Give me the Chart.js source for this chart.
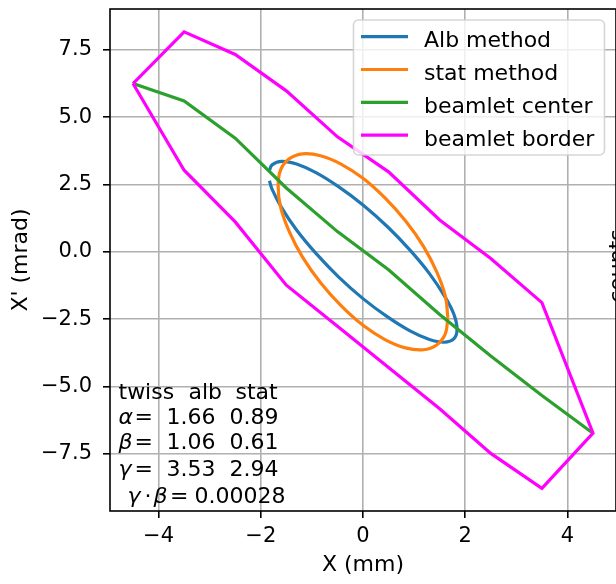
<!DOCTYPE html>
<html>
<head>
<meta charset="utf-8">
<script src="https://cdn.jsdelivr.net/npm/chart.js@4/dist/chart.umd.min.js"></script>
<style>
  html, body { margin: 0; padding: 0; overflow: hidden; background: #fff; width: 616px; height: 584px; }
  #wrap { position: absolute; left: 0; top: 0; width: 660px; height: 584px; }
</style>
</head>
<body>
<div id="wrap"><canvas id="phase" width="660" height="584"></canvas></div>
<script>
// Axis ticks
const xTicks = [-4, -2, 0, 2, 4];
const yTicks = [-7.5, -5, -2.5, 0, 2.5, 5, 7.5];

// Phase-space ellipse from the Alb method (open curve)
const albX = [-1.83, -1.78, -1.59, -1.30, -0.92, -0.48, 0, 0.48, 0.92, 1.30, 1.59, 1.78, 1.84,
              1.78, 1.59, 1.30, 0.92, 0.48, 0, -0.48, -0.92, -1.30, -1.59, -1.78, -1.83];
const albY = [3.02, 3.23, 3.36, 3.26, 2.94, 2.42, 1.74, 0.93, 0.06, -0.81, -1.63, -2.33, -2.88,
              -3.23, -3.36, -3.26, -2.94, -2.42, -1.74, -0.93, -0.06, 0.81, 1.63, 2.33, 2.64];

// Phase-space ellipse from the statistical method (closed)
const statX = [1.66, 1.61, 1.44, 1.18, 0.83, 0.43, 0, -0.43, -0.83, -1.18, -1.44, -1.61, -1.66,
               -1.61, -1.44, -1.18, -0.83, -0.43, 0, 0.43, 0.83, 1.18, 1.44, 1.61, 1.66];
const statY = [-2.43, -3.05, -3.46, -3.64, -3.57, -3.26, -2.73, -2.00, -1.15, -0.21, 0.74, 1.64, 2.43,
               3.05, 3.46, 3.64, 3.57, 3.26, 2.73, 2.00, 1.15, 0.21, -0.74, -1.64, -2.43];

// Beamlet centre line
const centerX = [-4.5, -3.5, -2.5, -1.5, -0.5, 0.5, 1.5, 2.5, 3.5, 4.5];
const centerY = [6.25, 5.6, 4.22, 2.37, 0.75, -0.67, -2.33, -3.87, -5.34, -6.74];

// Beamlet border polygon (upper edge, then lower edge back)
const borderX = [-4.5, -3.5, -2.5, -1.5, -0.5, 0.5, 1.5, 2.5, 3.5, 4.5,
                 3.5, 2.5, 1.5, 0.5, -0.5, -1.5, -2.5, -3.5, -4.5];
const borderY = [6.25, 8.17, 7.33, 5.98, 4.27, 2.97, 1.18, -0.25, -1.89, -6.74,
                 -8.79, -7.49, -5.83, -4.3, -2.77, -1.24, 1.11, 3.03, 6.25];

// Twiss parameters
const twissSymbols = ['α', 'β', 'γ'];
const albTwiss = [1.66, 1.06, 3.53];
const statTwiss = [0.89, 0.61, 2.94];
const gammaBeta = '0.00028';

const seriesNames = ['Alb method', 'stat method', 'beamlet center', 'beamlet border'];
const seriesColors = ['#1f77b4', '#ff7f0e', '#2ca02c', '#ff00ff'];

const FONT = '"DejaVu Sans", "Liberation Sans", sans-serif';
const pts = (xs, ys) => xs.map((x, i) => ({ x, y: ys[i] }));
const minus = s => String(s).replace('-', '\u2212');

function line(i, xs, ys, tension, order) {
  return {
    label: seriesNames[i], data: pts(xs, ys), showLine: true,
    borderColor: seriesColors[i], backgroundColor: seriesColors[i],
    borderWidth: 3.2, pointRadius: 0, pointHoverRadius: 0, tension, order,
    borderCapStyle: 'butt', borderJoinStyle: 'miter', fill: false
  };
}

// Black frame round the plot area
const frame = {
  id: 'frame',
  afterDatasetsDraw(chart) {
    const { ctx, chartArea: a } = chart;
    ctx.save();
    ctx.strokeStyle = '#000';
    ctx.lineWidth = 1.6;
    ctx.strokeRect(a.left, a.top, a.right - a.left, a.bottom - a.top);
    ctx.restore();
  }
};

// Twiss table in the lower-left corner
const twissTable = {
  id: 'twissTable',
  afterDatasetsDraw(chart) {
    const ctx = chart.ctx;
    const reg = '22px ' + FONT, ita = 'italic 22px ' + FONT;
    const put = (t, x, y, f) => { ctx.font = f; ctx.fillText(t, x, y); };
    ctx.save();
    ctx.fillStyle = '#000';
    ctx.textAlign = 'left';
    ctx.textBaseline = 'alphabetic';
    const base = [399, 423.5, 448.5, 476, 502.5];
    put('twiss', 118.5, base[0], reg);
    put('alb', 188.5, base[0], reg);
    put('stat', 235.5, base[0], reg);
    for (let i = 0; i < 3; i++) {
      const y = base[i + 1];
      put(twissSymbols[i], 118.5, y, ita);
      put('=', 134.5, y, reg);
      put(albTwiss[i].toFixed(2), 166.5, y, reg);
      put(statTwiss[i].toFixed(2), 229.5, y, reg);
    }
    const y = base[4];
    put('γ', 127.5, y, ita);
    put('·', 144.5, y, reg);
    put('β', 153.5, y, ita);
    put('=', 170, y, reg);
    put(gammaBeta, 194.5, y, reg);
    ctx.restore();
  }
};

// Legend box in the upper-right corner, plus the clipped side label
const cornerLegend = {
  id: 'cornerLegend',
  afterDraw(chart) {
    const ctx = chart.ctx;
    ctx.save();
    const bx = 353.5, by = 20, bw = 251, bh = 135, r = 5;
    ctx.beginPath();
    ctx.moveTo(bx + r, by);
    ctx.arcTo(bx + bw, by, bx + bw, by + bh, r);
    ctx.arcTo(bx + bw, by + bh, bx, by + bh, r);
    ctx.arcTo(bx, by + bh, bx, by, r);
    ctx.arcTo(bx, by, bx + bw, by, r);
    ctx.closePath();
    ctx.fillStyle = 'rgba(255,255,255,0.8)';
    ctx.fill();
    ctx.strokeStyle = 'rgba(204,204,204,0.8)';
    ctx.lineWidth = 1.6;
    ctx.stroke();
    ctx.font = '22px ' + FONT;
    ctx.textAlign = 'left';
    ctx.textBaseline = 'alphabetic';
    seriesNames.forEach((name, i) => {
      const y = 36.7 + i * 32.8;
      ctx.strokeStyle = seriesColors[i];
      ctx.lineWidth = 3.2;
      ctx.beginPath();
      ctx.moveTo(361, y);
      ctx.lineTo(408, y);
      ctx.stroke();
      ctx.fillStyle = '#000';
      ctx.fillText(name, 424, y + 10.5);
    });
    ctx.translate(624, 266);
    ctx.rotate(-Math.PI / 2);
    ctx.textAlign = 'center';
    ctx.font = '22px ' + FONT;
    ctx.fillText('counts', 0, 0);
    ctx.restore();
  }
};

const gridStyle = {
  color: '#b0b0b0', lineWidth: 1.6, drawTicks: true,
  tickLength: 7, tickColor: '#000', tickWidth: 1.6
};

new Chart(document.getElementById('phase'), {
  type: 'scatter',
  data: {
    datasets: [
      line(0, albX, albY, 0.4, 4),
      line(1, statX, statY, 0.4, 3),
      line(2, centerX, centerY, 0, 2),
      line(3, borderX, borderY, 0, 1)
    ]
  },
  options: {
    responsive: false,
    animation: false,
    devicePixelRatio: 1,
    layout: { padding: { left: 0, right: 44, top: 9, bottom: 0 } },
    plugins: { legend: { display: false }, tooltip: { enabled: false } },
    events: [],
    scales: {
      x: {
        type: 'linear', min: -4.95, max: 4.95,
        afterBuildTicks: s => { s.ticks = xTicks.map(v => ({ value: v })); },
        afterFit: s => { s.height = 73; s.paddingLeft = 0; s.paddingRight = 0; },
        grid: gridStyle,
        border: { display: false },
        ticks: {
          color: '#000', padding: 6, maxRotation: 0,
          font: { family: FONT, size: 21 },
          callback: v => minus(v)
        },
        title: {
          display: true, text: 'X (mm)', color: '#000',
          font: { family: FONT, size: 22 }, padding: { top: 0, bottom: 6 }
        }
      },
      y: {
        type: 'linear', min: -9.63, max: 9.02,
        afterBuildTicks: s => { s.ticks = yTicks.map(v => ({ value: v })); },
        afterFit: s => { s.width = 110; s.paddingTop = 0; s.paddingBottom = 0; },
        grid: gridStyle,
        border: { display: false },
        ticks: {
          color: '#000', padding: 11,
          font: { family: FONT, size: 21 },
          callback: v => minus(Number(v).toFixed(1))
        },
        title: {
          display: true, text: "X' (mrad)", color: '#000',
          font: { family: FONT, size: 22 }, padding: { top: 8, bottom: 0 }
        }
      }
    }
  },
  plugins: [frame, twissTable, cornerLegend]
});
</script>
</body>
</html>
